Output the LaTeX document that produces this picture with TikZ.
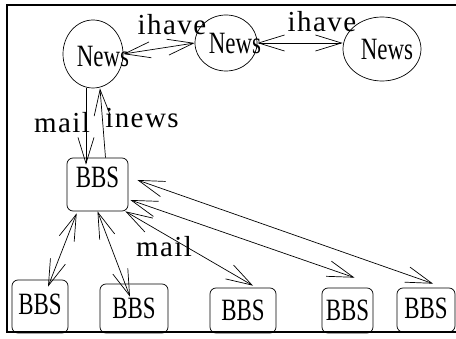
\documentclass[tikz,border=0pt]{standalone}
\usepackage{fontspec}
\setmainfont{Liberation Serif}
\newfontfamily\condf[FakeStretch=0.74]{Liberation Serif}
\newfontfamily\lblf[LetterSpace=5]{Liberation Serif}
\usetikzlibrary{shapes.geometric,arrows.meta}
\tikzset{
  news/.style={ellipse,draw,line width=0.7pt,inner sep=0pt},
  newstext/.style={font=\condf\fontsize{31}{33}\selectfont,inner sep=0pt},
  bbs/.style={rectangle,draw,line width=0.7pt,rounded corners=6pt,inner sep=0pt,
    font=\condf\fontsize{31}{33}\selectfont},
  lbl/.style={inner sep=0pt,font=\lblf\fontsize{29}{31}\selectfont},
  arr/.style={line width=0.7pt,-{Straight Barb[length=26pt,width=16pt,line width=0.7pt]}},
  darr/.style={line width=0.7pt,{Straight Barb[length=26pt,width=16pt,line width=0.7pt]}-{Straight Barb[length=26pt,width=16pt,line width=0.7pt]}}
}
\begin{document}
\begin{tikzpicture}[x=1pt,y=-1pt]
\useasboundingbox (0,0) rectangle (456,339);
\clip (0,0) rectangle (456,339);
\draw[line width=2.5pt] (7,5) rectangle (480,332);
% news servers
\node[news,minimum width=60pt,minimum height=68pt,
  label={[newstext,xshift=10pt,yshift=-3pt]center:News}] (n1) at (93,54) {};
\node[news,minimum width=62pt,minimum height=56pt,
  label={[newstext,xshift=9pt,yshift=-1pt]center:News}] (n2) at (226,43) {};
\node[news,minimum width=78pt,minimum height=64pt,
  label={[newstext,xshift=5pt,yshift=-1pt]center:News}] (n3) at (382,49) {};
% bbs
\node[bbs,minimum width=61pt,minimum height=53pt,text depth=14pt] (b0) at (97.5,184.5) {BBS};
\node[bbs,minimum width=56pt,minimum height=53pt,text depth=4pt] (b1) at (40,306.5) {BBS};
\node[bbs,minimum width=68pt,minimum height=49pt] (b2) at (134,308.5) {BBS};
\node[bbs,minimum width=66pt,minimum height=45pt] (b3) at (243,310.5) {BBS};
\node[bbs,minimum width=51pt,minimum height=45pt] (b4) at (347.5,310.5) {BBS};
\node[bbs,minimum width=58pt,minimum height=44pt,text depth=4pt] (b5) at (426,310) {BBS};
% connectors
\draw[darr] (n1.east) -- (n2.west);
\draw[darr] (n2.east) -- (n3.west |- n2.east);
\draw[arr] ([xshift=-7pt]n1.south) -- ([xshift=-11.5pt,yshift=-7pt]b0.north);
\draw[arr] ([xshift=8pt]b0.north) -- ([xshift=7pt]n1.south);
\draw[darr] ([xshift=10pt,yshift=-2pt]b0.south west) -- ([xshift=8pt,yshift=-7pt]b1.north);
\draw[darr] (b0.south) -- ([xshift=-4pt,yshift=-13pt]b2.north);
\draw[darr] ([xshift=-3pt]b0.south east) -- ([xshift=10pt,yshift=2pt]b3.north);
\draw[darr] ([xshift=2pt,yshift=-15.5pt]b0.east) -- ([xshift=7pt,yshift=10pt]b4.north);
\draw[darr] ([xshift=9pt,yshift=4.5pt]b0.east) -- ([xshift=7pt,yshift=4pt]b5.north);
% labels
\node[lbl] (l1) at (172,25) {ihave};
\node[lbl] (l2) at (322,22) {ihave};
\node[lbl] (l3) at (62,123) {mail};
\node[lbl] (l4) at (142,118) {inews};
\node[lbl] (l5) at (164,247) {mail};
\end{tikzpicture}
\end{document}
